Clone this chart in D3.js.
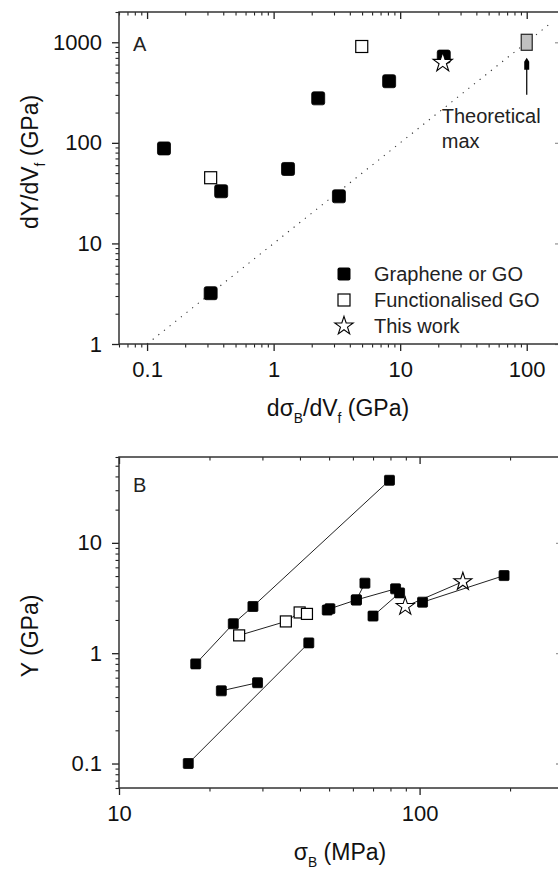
<!DOCTYPE html>
<html>
<head>
<meta charset="utf-8">
<script src="https://cdn.jsdelivr.net/npm/d3@7"></script>
<style>
  body { margin: 0; background: #fff; }
  svg { display: block; font-family: Arial, "Liberation Sans", sans-serif; }
</style>
</head>
<body>
<div id="chart"></div>
<script>
// ---- panel A data: dY/dVf vs dσB/dVf (GPa)
const aGraphene = [[0.136, 88], [0.385, 33], [0.318, 3.2], [1.30, 55], [2.25, 277],
  [3.28, 29.4], [8.18, 410], [22.1, 721]];
const aFunctional = [[0.318, 45], [4.97, 908]];
const aThisWork = [[21.7, 629]];
const aTheoretical = [[100, 1000]];
const aLimitLine = [[0.1, 1], [150, 1500]];
const aArrow = [[100, 300], [100, 700]];
const aLegend = ["Graphene or GO", "Functionalised GO", "This work"];

// ---- panel B data: Y (GPa) vs σB (MPa)
const bGrapheneSeries = [
  [[17, 0.1], [42.8, 1.24]],
  [[18, 0.8], [24, 1.85], [27.9, 2.65], [79.4, 36.9]],
  [[21.9, 0.456], [28.9, 0.54]],
  [[49.3, 2.46], [50.3, 2.53], [61.6, 3.04], [83.2, 3.83]],
  [[61.6, 3.04], [65.8, 4.31]],
  [[70, 2.17], [85.8, 3.52]],
  [[102.3, 2.9], [191, 5.05]]
];
const bFunctional = [[25.1, 1.45], [35.9, 1.94], [39.9, 2.34], [42.2, 2.27]];
const bThisWork = [[89.6, 2.65], [139.3, 4.45]];

const width = 558;
const height = 877;
const font = "Arial, 'Liberation Sans', sans-serif";

const svg = d3.select("#chart").append("svg")
  .attr("width", width)
  .attr("height", height);

function logTicks(domain) {
  const out = [];
  const e0 = Math.floor(Math.log10(domain[0]));
  const e1 = Math.ceil(Math.log10(domain[1]));
  for (let e = e0; e <= e1; e++) {
    for (let m = 1; m < 10; m++) {
      const v = +(m * Math.pow(10, e)).toPrecision(3);
      if (v >= domain[0] * 0.999 && v <= domain[1] * 1.001) out.push({ v, major: m === 1 });
    }
  }
  return out;
}

function drawFrame(x, y) {
  const [x0, x1] = x.range();
  const [y0, y1] = y.range();
  const xt = logTicks(x.domain());
  const yt = logTicks(y.domain());
  const major = (t) => t.filter((d) => d.major).map((d) => d.v);
  const minor = (t) => t.filter((d) => !d.major).map((d) => d.v);
  const fmt = (d) => String(d);

  const axes = [
    { gen: d3.axisBottom(x), t: `translate(0,${y0})`, ticks: xt, len: 7, lab: true, col: "#222" },
    { gen: d3.axisTop(x), t: `translate(0,${y1})`, ticks: xt, len: -7, lab: false, col: "#222" },
    { gen: d3.axisLeft(y), t: `translate(${x0},0)`, ticks: yt, len: 7, lab: true, col: "#222" },
    { gen: d3.axisRight(y), t: `translate(${x1},0)`, ticks: yt, len: -7, lab: false, col: "#999" }
  ];
  axes.forEach((a) => {
    const gMaj = svg.append("g").attr("transform", a.t)
      .call(a.gen.tickValues(major(a.ticks)).tickSize(a.len).tickPadding(10)
        .tickFormat(a.lab ? fmt : ""));
    gMaj.select(".domain").remove();
    gMaj.selectAll("line").attr("stroke", a.col).attr("stroke-width", 1.3);
    gMaj.selectAll("text").attr("font-family", font).attr("font-size", 22).attr("fill", "#111");
    const gMin = svg.append("g").attr("transform", a.t)
      .call(a.gen.tickValues(minor(a.ticks)).tickSize(a.len / 2).tickFormat(""));
    gMin.select(".domain").remove();
    gMin.selectAll("line").attr("stroke", a.col).attr("stroke-width", 1.1);
  });

  svg.append("rect")
    .attr("x", x0).attr("y", y1)
    .attr("width", x1 - x0).attr("height", y0 - y1)
    .attr("fill", "none").attr("stroke", "#333").attr("stroke-width", 1.5);
}

function squares(g, data, x, y, size, filled, r) {
  g.selectAll(null).data(data).enter().append("rect")
    .attr("x", (d) => x(d[0]) - size / 2)
    .attr("y", (d) => y(d[1]) - size / 2)
    .attr("width", size).attr("height", size)
    .attr("rx", filled ? r : 0)
    .attr("fill", filled ? "#000" : "#fff")
    .attr("stroke", "#000").attr("stroke-width", filled ? 0.8 : 1.2);
}

function stars(g, data, x, y, size) {
  g.selectAll(null).data(data).enter().append("path")
    .attr("d", d3.symbol(d3.symbolStar, size))
    .attr("transform", (d) => `translate(${x(d[0])},${y(d[1])})`)
    .attr("fill", "#fff").attr("stroke", "#000").attr("stroke-width", 1.1);
}

// text with subscripts: each part either {t} or {sub}
function subText(parent, parts, size) {
  let shift = 0;
  parts.forEach((p) => {
    const span = parent.append("tspan");
    if (p.sub) {
      span.attr("font-size", size * 0.6).attr("dy", size * 0.3 - shift).text(p.sub);
      shift = size * 0.3;
    } else {
      span.attr("font-size", size).attr("dy", -shift).text(p.t);
      shift = 0;
    }
  });
}

// ================= Panel A =================
const xA = d3.scaleLog().domain([0.06, 190]).range([119, 562]);
const yA = d3.scaleLog().domain([1, 2000]).range([344, 12]);

const gA = svg.append("g");
gA.append("path")
  .datum(aLimitLine)
  .attr("d", d3.line().x((d) => xA(d[0])).y((d) => yA(d[1])))
  .attr("fill", "none").attr("stroke", "#333").attr("stroke-width", 1.1)
  .attr("stroke-dasharray", "1.2,6");

squares(gA, aGraphene, xA, yA, 13, true, 2);
squares(gA, aFunctional, xA, yA, 12, false, 0);
stars(gA, aThisWork, xA, yA, 115);

// theoretical max marker (grey rectangle) + arrow
gA.selectAll(null).data(aTheoretical).enter().append("rect")
  .attr("x", (d) => xA(d[0]) - 5.5).attr("y", (d) => yA(d[1]) - 8)
  .attr("width", 11).attr("height", 16)
  .attr("fill", "#c0c0c0").attr("stroke", "#222").attr("stroke-width", 1.2);
gA.append("line")
  .attr("x1", xA(aArrow[0][0])).attr("y1", yA(aArrow[0][1]))
  .attr("x2", xA(aArrow[1][0])).attr("y2", yA(aArrow[1][1]) + 6)
  .attr("stroke", "#111").attr("stroke-width", 1.3);
const ax = xA(aArrow[1][0]);
const ay = yA(aArrow[1][1]);
gA.append("path")
  .attr("d", `M${ax},${ay} L${ax + 2.5},${ay + 4} L${ax + 2.5},${ay + 12} L${ax - 2.5},${ay + 12} L${ax - 2.5},${ay + 4} Z`)
  .attr("fill", "#000");
gA.append("text").attr("x", ax - 85).attr("y", 123)
  .attr("font-family", font).attr("font-size", 20).attr("fill", "#222").text("Theoretical");
gA.append("text").attr("x", ax - 85).attr("y", 148)
  .attr("font-family", font).attr("font-size", 20).attr("fill", "#222").text("max");

drawFrame(xA, yA);

gA.append("text").attr("x", 133).attr("y", 51)
  .attr("font-family", font).attr("font-size", 20).attr("fill", "#222").text("A");

// legend
const legY = [274, 300, 326];
svg.append("rect").attr("x", 344 - 6.5).attr("y", legY[0] - 6.5).attr("width", 13).attr("height", 13)
  .attr("rx", 2).attr("fill", "#000");
svg.append("rect").attr("x", 344 - 6).attr("y", legY[1] - 6).attr("width", 12).attr("height", 12)
  .attr("fill", "#fff").attr("stroke", "#000").attr("stroke-width", 1.2);
svg.append("path").attr("d", d3.symbol(d3.symbolStar, 105))
  .attr("transform", `translate(344,${legY[2]})`)
  .attr("fill", "#fff").attr("stroke", "#000").attr("stroke-width", 1.1);
svg.selectAll(null).data(aLegend).enter().append("text")
  .attr("x", 374).attr("y", (d, i) => legY[i] + 7)
  .attr("font-family", font).attr("font-size", 20).attr("fill", "#222")
  .text((d) => d);

// axis titles A
const tAx = svg.append("text").attr("x", 338).attr("y", 416).attr("text-anchor", "middle")
  .attr("font-family", font).attr("fill", "#111");
subText(tAx, [{ t: "dσ" }, { sub: "B" }, { t: "/dV" }, { sub: "f" }, { t: " (GPa)" }], 23);
const tAy = svg.append("text").attr("transform", "translate(38,162) rotate(-90)")
  .attr("text-anchor", "middle").attr("font-family", font).attr("fill", "#111");
subText(tAy, [{ t: "dY/dV" }, { sub: "f" }, { t: " (GPa)" }], 23);

// ================= Panel B =================
const xB = d3.scaleLog().domain([10, 300]).range([119, 563]);
const yB = d3.scaleLog().domain([0.06, 60]).range([788, 457]);
const gB = svg.append("g");
const lineB = d3.line().x((d) => xB(d[0])).y((d) => yB(d[1]));

bGrapheneSeries.concat([bFunctional, bThisWork]).forEach((s) => {
  gB.append("path").datum(s).attr("d", lineB)
    .attr("fill", "none").attr("stroke", "#222").attr("stroke-width", 1);
});
bGrapheneSeries.forEach((s) => squares(gB, s, xB, yB, 10, true, 1));
squares(gB, bFunctional, xB, yB, 11, false, 0);
stars(gB, bThisWork, xB, yB, 100);

drawFrame(xB, yB);

gB.append("text").attr("x", 133).attr("y", 492)
  .attr("font-family", font).attr("font-size", 20).attr("fill", "#222").text("B");

const tBx = svg.append("text").attr("x", 340).attr("y", 860).attr("text-anchor", "middle")
  .attr("font-family", font).attr("fill", "#111");
subText(tBx, [{ t: "σ" }, { sub: "B" }, { t: " (MPa)" }], 23);
const tBy = svg.append("text").attr("transform", "translate(38,636) rotate(-90)")
  .attr("text-anchor", "middle").attr("font-family", font).attr("fill", "#111");
subText(tBy, [{ t: "Y (GPa)" }], 23);
</script>
</body>
</html>
